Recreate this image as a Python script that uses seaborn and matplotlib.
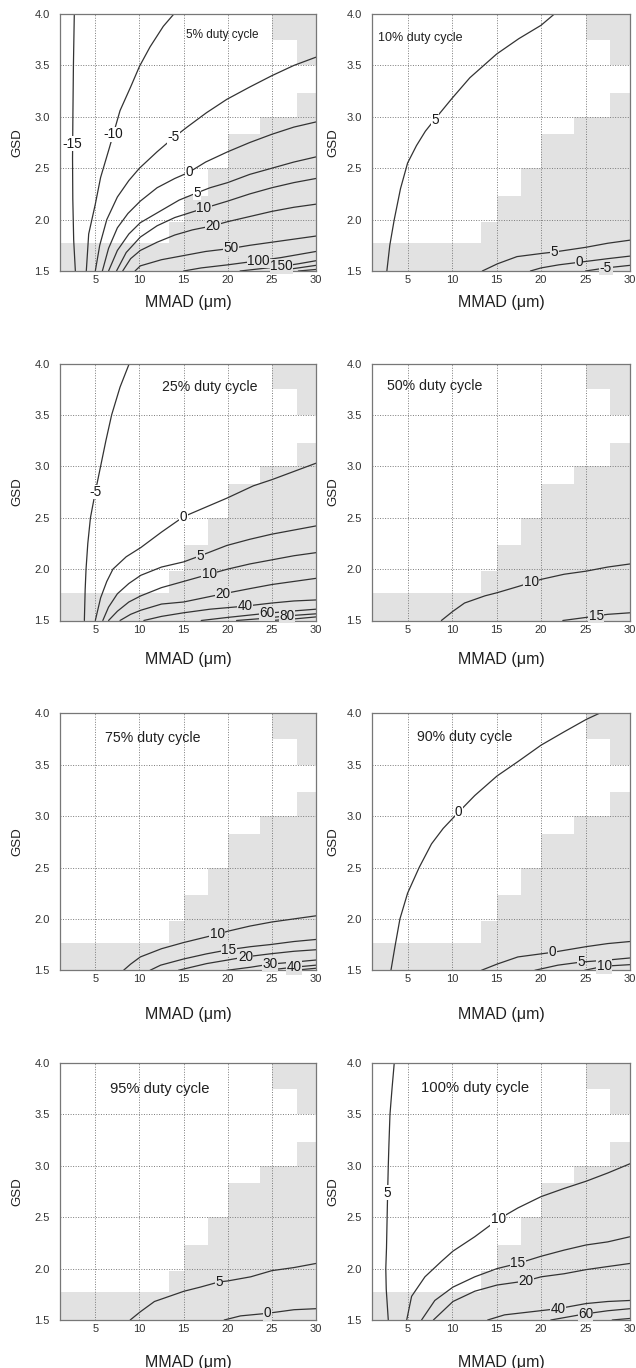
"""
GSD vs MMAD contour panels for eight duty cycles, redrawn from digitised traces.
"""

import numpy as np
import pandas as pd
import matplotlib
matplotlib.use("Agg")
import matplotlib.pyplot as plt
import seaborn as sns

# ---- shaded cells (the same on every panel) ---------------------------------
CELL_LEFT  = [1.0, 13.3, 15.05, 17.8, 20.0, 23.7, 27.8]
CELL_RIGHT = [13.3, 15.05, 17.8, 20.0, 23.7, 27.8, 30.0]
CELL_TOP   = [1.77, 1.98, 2.23, 2.50, 2.83, 3.00, 3.23]
CAP_LEFT   = [25.0, 27.8]
CAP_RIGHT  = [27.8, 30.0]
CAP_BOTTOM = [3.75, 3.50]

X_TICKS = [5, 10, 15, 20, 25, 30]
Y_TICKS = [1.5, 2.0, 2.5, 3.0, 3.5, 4.0]

DC05_NOTE  = "5% duty cycle"
DC05_LEVEL = [-15, -10, -5, 0, 5, 10, 20, 50, 100, 150, None, None]
DC05_X = [
    [2.62, 2.52, 2.46, 2.42, 2.45, 2.55, 2.74],
    [3.98, 4.25, 5.0, 5.6, 6.6, 7.8, 9.0, 10.0, 11.2, 12.7, 13.9],
    [5.0, 5.5, 6.3, 7.5, 8.8, 10.0, 12.0, 13.9, 15.4, 17.6, 19.9, 22.5, 25.0, 27.5, 30.0],
    [5.8, 6.5, 7.5, 8.7, 10.1, 12.0, 14.0, 15.6, 17.5, 20.0, 22.5, 25.0, 27.5, 30.0],
    [6.5, 7.5, 8.8, 10.1, 12.5, 14.5, 16.5, 18.0, 20.0, 22.5, 25.0, 27.5, 30.0],
    [7.4, 8.5, 10.1, 12.0, 14.0, 17.3, 20.0, 22.5, 25.0, 27.5, 30.0],
    [8.1, 9.0, 10.1, 12.0, 14.0, 16.0, 18.3, 20.0, 22.5, 25.0, 27.5, 30.0],
    [9.5, 10.1, 12.5, 15.0, 17.5, 20.4, 22.5, 25.0, 27.5, 30.0],
    [15.0, 17.0, 20.0, 23.5, 26.0, 28.0, 30.0],
    [21.4, 24.0, 26.1, 28.0, 30.0],
    [25.5, 28.0, 30.0],
    [28.0, 30.0],
]
DC05_Y = [
    [4.0, 3.5, 3.0, 2.6, 2.2, 1.8, 1.5],
    [1.5, 1.86, 2.15, 2.41, 2.7, 3.06, 3.29, 3.49, 3.68, 3.88, 4.0],
    [1.5, 1.75, 2.0, 2.22, 2.38, 2.5, 2.66, 2.80, 2.9, 3.04, 3.17, 3.29, 3.40, 3.5, 3.58],
    [1.5, 1.72, 1.92, 2.06, 2.18, 2.31, 2.4, 2.46, 2.56, 2.66, 2.75, 2.83, 2.9, 2.95],
    [1.5, 1.7, 1.86, 1.97, 2.09, 2.19, 2.26, 2.31, 2.36, 2.44, 2.5, 2.56, 2.61],
    [1.5, 1.68, 1.83, 1.94, 2.02, 2.11, 2.18, 2.25, 2.31, 2.36, 2.40],
    [1.5, 1.62, 1.70, 1.78, 1.85, 1.90, 1.94, 1.98, 2.03, 2.08, 2.12, 2.15],
    [1.5, 1.55, 1.61, 1.65, 1.69, 1.72, 1.75, 1.78, 1.81, 1.84],
    [1.5, 1.53, 1.56, 1.60, 1.63, 1.66, 1.69],
    [1.5, 1.525, 1.545, 1.57, 1.60],
    [1.5, 1.53, 1.555],
    [1.5, 1.515],
]
DC05_LABEL = [(2.42, 2.74), (7.05, 2.83), (13.9, 2.80), (15.6, 2.46), (16.5, 2.26),
              (17.3, 2.11), (18.3, 1.94), (20.4, 1.72), (23.5, 1.60), (26.1, 1.545),
              None, None]

DC10_NOTE  = "10% duty cycle"
DC10_LEVEL = [5, 5, 0, -5]
DC10_X = [
    [2.67, 3.0, 3.5, 4.2, 5.0, 6.0, 7.0, 8.1, 10.0, 12.0, 15.0, 17.5, 20.0, 21.5],
    [13.4, 15.1, 17.3, 20.0, 21.5, 25.0, 27.5, 30.0],
    [18.8, 20.0, 22.0, 24.3, 27.5, 30.0],
    [25.0, 27.3, 30.0],
]
DC10_Y = [
    [1.5, 1.75, 2.0, 2.3, 2.55, 2.72, 2.86, 2.98, 3.18, 3.38, 3.61, 3.76, 3.89, 4.0],
    [1.5, 1.57, 1.64, 1.67, 1.685, 1.73, 1.77, 1.80],
    [1.5, 1.53, 1.56, 1.585, 1.62, 1.645],
    [1.5, 1.53, 1.555],
]
DC10_LABEL = [(8.1, 2.97), (21.5, 1.685), (24.3, 1.585), (27.3, 1.53)]

DC25_NOTE  = "25% duty cycle"
DC25_LEVEL = [-5, 0, 5, 10, 20, 40, 60, 80, None]
DC25_X = [
    [3.76, 3.85, 3.95, 4.15, 4.45, 5.0, 5.6, 6.2, 6.85, 7.8, 8.85],
    [5.0, 5.6, 6.3, 7.0, 8.5, 10.16, 12.5, 15.0, 16.9, 19.9, 22.9, 25.0, 27.5, 30.0],
    [5.85, 6.5, 7.5, 8.8, 10.16, 12.5, 15.0, 16.9, 19.9, 22.5, 25.0, 27.5, 30.0],
    [6.5, 7.5, 8.8, 10.16, 12.5, 15.0, 17.9, 20.0, 22.5, 25.0, 27.5, 30.0],
    [7.8, 9.0, 10.16, 12.5, 15.0, 19.5, 22.5, 25.0, 27.5, 30.0],
    [10.5, 12.5, 15.0, 18.0, 22.0, 25.0, 27.5, 30.0],
    [17.0, 20.0, 24.4, 27.0, 30.0],
    [21.0, 24.0, 26.7, 30.0],
    [25.0, 27.5, 30.0],
]
DC25_Y = [
    [1.5, 1.8, 2.0, 2.25, 2.5, 2.75, 3.0, 3.25, 3.5, 3.77, 4.0],
    [1.5, 1.72, 1.88, 2.0, 2.12, 2.21, 2.36, 2.51, 2.58, 2.69, 2.81, 2.87, 2.95, 3.03],
    [1.5, 1.63, 1.76, 1.86, 1.94, 2.02, 2.07, 2.13, 2.23, 2.29, 2.34, 2.38, 2.42],
    [1.5, 1.59, 1.68, 1.74, 1.82, 1.88, 1.95, 2.0, 2.05, 2.09, 2.13, 2.16],
    [1.5, 1.56, 1.60, 1.66, 1.68, 1.76, 1.81, 1.85, 1.88, 1.91],
    [1.5, 1.54, 1.575, 1.61, 1.64, 1.67, 1.69, 1.70],
    [1.5, 1.53, 1.57, 1.59, 1.61],
    [1.5, 1.52, 1.545, 1.565],
    [1.5, 1.515, 1.535],
]
DC25_LABEL = [(5.0, 2.75), (15.0, 2.51), (16.9, 2.13), (17.9, 1.95), (19.5, 1.76),
              (22.0, 1.64), (24.4, 1.57), (26.7, 1.545), None]

DC50_NOTE  = "50% duty cycle"
DC50_LEVEL = [10, 15]
DC50_X = [
    [8.8, 10.1, 11.4, 13.7, 15.05, 17.4, 18.9, 20.0, 22.6, 25.07, 27.5, 30.0],
    [22.45, 25.07, 26.2, 27.5, 30.0],
]
DC50_Y = [
    [1.5, 1.59, 1.67, 1.74, 1.77, 1.83, 1.87, 1.90, 1.95, 1.98, 2.02, 2.05],
    [1.5, 1.53, 1.545, 1.56, 1.575],
]
DC50_LABEL = [(18.9, 1.87), (26.2, 1.545)]

DC75_NOTE  = "75% duty cycle"
DC75_LEVEL = [10, 15, 20, 30, 40, None]
DC75_X = [
    [8.2, 9.0, 10.1, 12.5, 15.0, 18.8, 20.0, 22.5, 25.0, 27.5, 30.0],
    [11.2, 12.4, 15.0, 17.6, 20.1, 22.6, 24.8, 27.5, 30.0],
    [14.4, 17.6, 20.0, 22.0, 24.8, 27.5, 30.0],
    [19.9, 22.6, 24.8, 27.5, 30.0],
    [24.4, 27.5, 30.0],
    [27.5, 30.0],
]
DC75_Y = [
    [1.5, 1.56, 1.63, 1.71, 1.77, 1.85, 1.88, 1.93, 1.97, 2.0, 2.03],
    [1.5, 1.55, 1.61, 1.66, 1.70, 1.73, 1.75, 1.78, 1.80],
    [1.5, 1.565, 1.60, 1.63, 1.66, 1.685, 1.70],
    [1.5, 1.53, 1.56, 1.58, 1.60],
    [1.5, 1.53, 1.55],
    [1.5, 1.52],
]
DC75_LABEL = [(18.8, 1.85), (20.1, 1.70), (22.0, 1.63), (24.8, 1.56), (27.5, 1.53), None]

DC90_NOTE  = "90% duty cycle"
DC90_LEVEL = [0, 0, 5, 10]
DC90_X = [
    [3.13, 3.58, 4.14, 5.0, 6.3, 7.69, 9.0, 10.75, 12.55, 15.05, 17.4, 20.0, 22.6, 25.07, 26.56],
    [13.3, 15.05, 17.4, 20.0, 21.3, 25.07, 27.5, 30.0],
    [19.3, 21.9, 24.5, 27.5, 30.0],
    [24.9, 27.1, 30.0],
]
DC90_Y = [
    [1.5, 1.73, 2.0, 2.25, 2.5, 2.73, 2.88, 3.04, 3.2, 3.39, 3.53, 3.69, 3.82, 3.94, 4.0],
    [1.5, 1.56, 1.63, 1.66, 1.675, 1.73, 1.76, 1.78],
    [1.5, 1.55, 1.58, 1.60, 1.62],
    [1.5, 1.54, 1.555],
]
DC90_LABEL = [(10.75, 3.04), (21.3, 1.675), (24.5, 1.58), (27.1, 1.54)]

DC95_NOTE  = "95% duty cycle"
DC95_LEVEL = [5, 0]
DC95_X = [
    [8.95, 10.1, 11.7, 15.05, 16.9, 19.0, 20.0, 22.6, 25.0, 27.5, 30.0],
    [19.6, 21.45, 24.5, 27.5, 30.0],
]
DC95_Y = [
    [1.5, 1.58, 1.68, 1.78, 1.82, 1.87, 1.88, 1.92, 1.98, 2.01, 2.05],
    [1.5, 1.54, 1.565, 1.60, 1.61],
]
DC95_LABEL = [(19.0, 1.87), (24.5, 1.565)]

DC100_NOTE  = "100% duty cycle"
DC100_LEVEL = [5, 10, 15, 20, 40, 60, None]
DC100_X = [
    [3.5, 3.25, 3.02, 2.9, 2.83, 2.76, 2.7, 2.63, 2.55, 2.6, 2.83],
    [4.9, 5.45, 6.95, 8.8, 10.1, 12.55, 15.2, 17.4, 20.0, 22.6, 25.07, 27.5, 30.0],
    [6.57, 8.06, 10.1, 12.55, 15.05, 17.4, 20.0, 22.6, 25.07, 27.5, 30.0],
    [7.9, 10.1, 12.55, 15.05, 18.3, 20.0, 22.6, 25.07, 27.5, 30.0],
    [14.0, 15.9, 18.9, 21.9, 25.07, 27.5, 30.0],
    [21.1, 25.0, 27.5, 30.0],
    [28.0, 30.0],
]
DC100_Y = [
    [4.0, 3.75, 3.5, 3.2, 3.0, 2.75, 2.5, 2.2, 2.0, 1.8, 1.5],
    [1.5, 1.73, 1.92, 2.07, 2.17, 2.31, 2.48, 2.59, 2.70, 2.78, 2.85, 2.93, 3.02],
    [1.5, 1.69, 1.82, 1.92, 2.0, 2.05, 2.12, 2.18, 2.23, 2.26, 2.31],
    [1.5, 1.68, 1.78, 1.84, 1.88, 1.92, 1.95, 1.99, 2.02, 2.05],
    [1.5, 1.55, 1.58, 1.61, 1.66, 1.68, 1.69],
    [1.5, 1.56, 1.59, 1.61],
    [1.5, 1.515],
]
DC100_LABEL = [(2.76, 2.74), (15.2, 2.48), (17.4, 2.05), (18.3, 1.88), (21.9, 1.61),
               (25.0, 1.56), None]

PANELS = [
    (DC05_NOTE, DC05_LEVEL, DC05_X, DC05_Y, DC05_LABEL),
    (DC10_NOTE, DC10_LEVEL, DC10_X, DC10_Y, DC10_LABEL),
    (DC25_NOTE, DC25_LEVEL, DC25_X, DC25_Y, DC25_LABEL),
    (DC50_NOTE, DC50_LEVEL, DC50_X, DC50_Y, DC50_LABEL),
    (DC75_NOTE, DC75_LEVEL, DC75_X, DC75_Y, DC75_LABEL),
    (DC90_NOTE, DC90_LEVEL, DC90_X, DC90_Y, DC90_LABEL),
    (DC95_NOTE, DC95_LEVEL, DC95_X, DC95_Y, DC95_LABEL),
    (DC100_NOTE, DC100_LEVEL, DC100_X, DC100_Y, DC100_LABEL),
]

# ---- layout / style ----------------------------------------------------------
W, H = 636, 1368
COL_LEFT  = [60, 372]
COL_WIDTH = [256, 258]
ROW_TOP   = [14, 363.5, 713.3, 1063]
ROW_HEIGHT = 257
XLABEL_DROP = [31, 39, 44, 43]      # px from axes bottom to x-label centre
YLABEL_GAP  = [43, 39]              # px from axes left to y-label centre
NOTE_AT   = [(15.3, 3.80), (1.7, 3.77), (12.5, 3.77), (2.65, 3.78),
             (6.05, 3.76), (6.1, 3.77), (6.7, 3.75), (6.5, 3.76)]
NOTE_SIZE = [8.5, 9.0, 10.2, 10.2, 10.2, 10.2, 10.6, 10.6]

SHADE = "#e2e2e2"
LINE_COLOR = "#333333"

sns.set_theme(style="white")
plt.rcParams["font.family"] = ["Liberation Sans", "DejaVu Sans"]


def shade_at(x, y):
    for l, r, t in zip(CELL_LEFT, CELL_RIGHT, CELL_TOP):
        if l <= x < r and y < t:
            return SHADE
    for l, r, b in zip(CAP_LEFT, CAP_RIGHT, CAP_BOTTOM):
        if l <= x < r and y > b:
            return SHADE
    return "white"


def draw_panel(ax, note, levels, xs, ys, labels, idx):
    y0, y1 = Y_TICKS[0], Y_TICKS[-1]
    ax.bar(CELL_LEFT, np.subtract(CELL_TOP, y0), width=np.subtract(CELL_RIGHT, CELL_LEFT),
           bottom=y0, align="edge", color=SHADE, linewidth=0)
    ax.bar(CAP_LEFT, y1 - np.array(CAP_BOTTOM), width=np.subtract(CAP_RIGHT, CAP_LEFT),
           bottom=CAP_BOTTOM, align="edge", color=SHADE, linewidth=0)

    df = pd.concat([pd.DataFrame({"x": x, "y": y, "line": i})
                    for i, (x, y) in enumerate(zip(xs, ys))], ignore_index=True)
    sns.lineplot(data=df, x="x", y="y", units="line", estimator=None, sort=False,
                 color=LINE_COLOR, linewidth=0.9, legend=False, ax=ax)

    for lev, xy in zip(levels, labels):
        if lev is None:
            continue
        ax.text(xy[0], xy[1], f"{lev:g}", ha="center", va="center", fontsize=9.8,
                color="#1a1a1a", zorder=4,
                bbox=dict(boxstyle="square,pad=0.03", fc=shade_at(*xy), ec="none"))

    nx, ny = NOTE_AT[idx]
    ax.text(nx, ny, note, ha="left", va="center", fontsize=NOTE_SIZE[idx],
            color="#202020", zorder=4)

    ax.set_xlim(1, 30)
    ax.set_ylim(y0, y1)
    ax.set_xticks(X_TICKS)
    ax.set_yticks(Y_TICKS)
    ax.set_yticklabels([f"{v:.1f}" for v in Y_TICKS])
    ax.set_axisbelow("line")
    ax.grid(True, linestyle=(0, (1, 1.6)), color="#7a7a7a", linewidth=0.7)
    ax.tick_params(axis="x", length=0, pad=3, labelsize=8, colors="#333333")
    ax.tick_params(axis="y", length=0, pad=7.5, labelsize=8, colors="#333333")
    for sp in ax.spines.values():
        sp.set_color("#777777")
        sp.set_linewidth(0.9)


fig = plt.figure(figsize=(W / 100, H / 100), dpi=100)
for i, (note, levels, xs, ys, labels) in enumerate(PANELS):
    r, c = divmod(i, 2)
    left, width, top = COL_LEFT[c], COL_WIDTH[c], ROW_TOP[r]
    ax = fig.add_axes([left / W, 1 - (top + ROW_HEIGHT) / H, width / W, ROW_HEIGHT / H])
    draw_panel(ax, note, levels, xs, ys, labels, i)

    ax.set_xlabel("MMAD (\u03bcm)", fontsize=11.5, color="#202020")
    ax.xaxis.label.set_va("center")
    ax.xaxis.set_label_coords(0.5, -XLABEL_DROP[r] / ROW_HEIGHT)
    ax.set_ylabel("GSD", fontsize=9.5, color="#202020")
    ax.yaxis.label.set_va("center")
    ax.yaxis.set_label_coords(-YLABEL_GAP[c] / width, 0.5)

fig.savefig("out.png", dpi=100)
plt.close(fig)
